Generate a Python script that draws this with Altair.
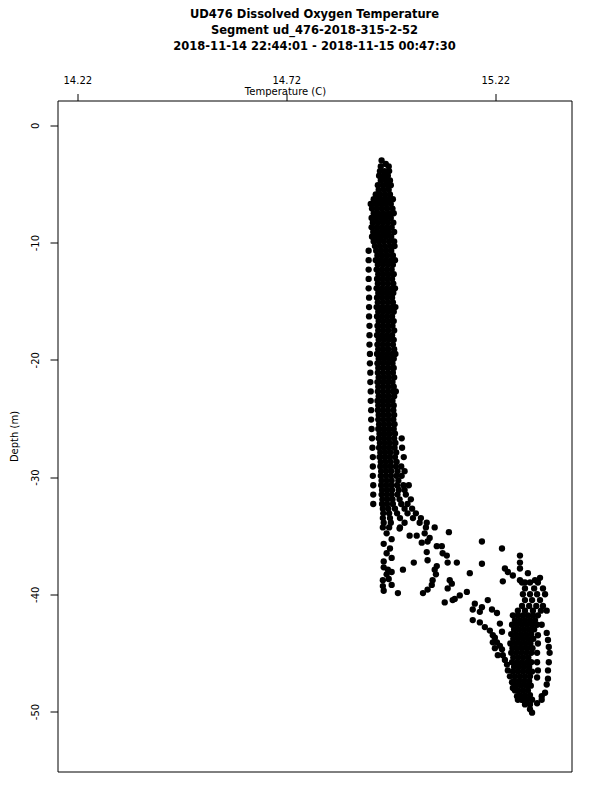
import altair as alt
import pandas as pd

title_lines = [
    "UD476 Dissolved Oxygen Temperature",
    "Segment ud_476-2018-315-2-52",
    "2018-11-14 22:44:01 - 2018-11-15 00:47:30",
]
x_title = "Temperature (C)"
y_title = "Depth (m)"
x_ticks = [14.22, 14.72, 15.22]
y_ticks = [0, -10, -20, -30, -40, -50]
x_domain = [14.1726, 15.4023]
y_domain = [-55.12, 2.12]

# ---- upper mixed layer (depth level -> temperatures read at that level)
upper_depths = [
    -3.0, -3.3, -3.5, -3.9, -4.3, -4.7, -5.1, -5.5, -5.9, -6.3, -6.7, -7.1, -7.5, -7.9,
    -8.3, -8.7, -9.1, -9.5, -9.9, -10.3, -10.7, -11.1, -11.5, -11.9, -12.3, -12.7,
    -13.1, -13.5, -13.9, -14.3, -14.7, -15.1, -15.5, -15.9, -16.3, -16.7, -17.1,
    -17.5, -17.9, -18.3, -18.7, -19.1, -19.5, -19.9, -20.3, -20.7, -21.1, -21.5,
    -21.9, -22.3, -22.7, -23.1, -23.5, -23.9, -24.3, -24.7, -25.1, -25.5, -25.9,
    -26.3, -26.7, -27.1, -27.5, -27.9, -28.3, -28.7, -29.1, -29.5, -29.9, -30.3,
    -30.7, -31.1, -31.5, -31.9, -32.3, -32.7, -33.1, -33.5, -33.9, -34.3,
]
upper_temps = [
    [14.948],
    [14.958],
    [14.946, 14.965],
    [14.944, 14.955, 14.966],
    [14.942, 14.953, 14.963],
    [14.946, 14.958, 14.968],
    [14.939, 14.951, 14.962, 14.970],
    [14.941, 14.953, 14.965],
    [14.934, 14.944, 14.956, 14.968],
    [14.929, 14.941, 14.952, 14.963, 14.975],
    [14.922, 14.934, 14.946, 14.958, 14.970],
    [14.925, 14.937, 14.949, 14.961, 14.974],
    [14.929, 14.940, 14.952, 14.965, 14.977],
    [14.924, 14.935, 14.947, 14.958, 14.970],
    [14.927, 14.939, 14.951, 14.963, 14.976],
    [14.924, 14.936, 14.948, 14.960, 14.972],
    [14.928, 14.940, 14.953, 14.965, 14.978],
    [14.925, 14.936, 14.947, 14.959, 14.971],
    [14.929, 14.941, 14.953, 14.966, 14.978],
    [14.932, 14.944, 14.956, 14.968, 14.979],
    [14.917, 14.935, 14.947, 14.959, 14.971],
    [14.938, 14.950, 14.962, 14.975],
    [14.917, 14.934, 14.946, 14.958, 14.970, 14.980],
    [14.939, 14.951, 14.963, 14.975],
    [14.917, 14.936, 14.948, 14.960, 14.972],
    [14.940, 14.952, 14.964, 14.977],
    [14.917, 14.937, 14.949, 14.961, 14.973],
    [14.939, 14.951, 14.963, 14.976],
    [14.917, 14.936, 14.948, 14.960, 14.972, 14.980],
    [14.940, 14.952, 14.964, 14.976],
    [14.918, 14.937, 14.949, 14.961, 14.973],
    [14.939, 14.951, 14.963, 14.975],
    [14.918, 14.936, 14.948, 14.960, 14.972, 14.981],
    [14.940, 14.952, 14.964, 14.977],
    [14.918, 14.937, 14.949, 14.961, 14.973],
    [14.941, 14.953, 14.965, 14.977],
    [14.919, 14.938, 14.950, 14.962, 14.974],
    [14.940, 14.952, 14.964, 14.978],
    [14.919, 14.937, 14.949, 14.961, 14.973],
    [14.941, 14.953, 14.965, 14.977],
    [14.919, 14.938, 14.950, 14.962, 14.975],
    [14.940, 14.952, 14.964, 14.978],
    [14.920, 14.937, 14.949, 14.961, 14.973, 14.981],
    [14.941, 14.953, 14.965, 14.977],
    [14.920, 14.938, 14.950, 14.962, 14.974],
    [14.940, 14.952, 14.964, 14.977],
    [14.921, 14.939, 14.951, 14.963, 14.975],
    [14.941, 14.953, 14.965, 14.978],
    [14.921, 14.938, 14.950, 14.962, 14.974],
    [14.940, 14.952, 14.964, 14.977],
    [14.922, 14.939, 14.951, 14.963, 14.975, 14.982],
    [14.941, 14.953, 14.965, 14.978],
    [14.922, 14.938, 14.950, 14.962, 14.974],
    [14.940, 14.952, 14.964, 14.977],
    [14.923, 14.939, 14.951, 14.963, 14.976],
    [14.941, 14.953, 14.965, 14.978],
    [14.923, 14.940, 14.952, 14.964, 14.976],
    [14.942, 14.954, 14.966, 14.979],
    [14.924, 14.940, 14.952, 14.964, 14.977],
    [14.943, 14.955, 14.967, 14.980],
    [14.925, 14.941, 14.953, 14.965, 14.978, 14.996],
    [14.944, 14.956, 14.968, 14.981],
    [14.926, 14.942, 14.954, 14.966, 14.979, 14.997],
    [14.945, 14.957, 14.969, 14.983],
    [14.927, 14.943, 14.955, 14.967, 14.980, 15.001],
    [14.946, 14.958, 14.970, 14.984],
    [14.927, 14.945, 14.957, 14.969, 14.982, 14.995],
    [14.947, 14.959, 14.971, 14.986, 15.003],
    [14.927, 14.946, 14.958, 14.970, 14.983, 14.996],
    [14.948, 14.960, 14.972, 14.988],
    [14.928, 14.947, 14.959, 14.971, 14.985, 15.000, 15.013],
    [14.949, 14.961, 14.973, 14.989, 15.003],
    [14.928, 14.948, 14.960, 14.972, 14.986, 15.006],
    [14.950, 14.962, 14.974, 14.991, 15.018],
    [14.928, 14.949, 14.961, 14.975, 14.995, 15.010],
    [14.951, 14.964, 14.980, 15.003, 15.021],
    [14.952, 14.966, 14.985, 15.010, 15.030],
    [14.951, 14.968, 14.992, 15.023, 15.042],
    [14.953, 14.970, 15.003, 15.039, 15.056],
    [14.951, 14.966, 14.992, 15.054, 15.075],
]

# ---- thermocline: individual scattered readings
thermo_temps = [
    14.960, 14.972, 14.953, 14.968, 14.960, 14.972, 14.953, 14.953, 14.963, 14.960,
    14.972, 14.951, 14.951, 14.972, 14.953, 14.965,
    14.991, 15.015, 15.032, 15.051, 15.063, 15.109,
    15.044, 15.058, 15.080, 15.092, 15.094, 15.104, 15.106, 15.128,
    15.056, 15.058, 15.075, 15.080, 15.078, 15.070, 15.068, 15.058, 15.047,
    15.025, 14.999, 14.987,
    15.111, 15.116, 15.106, 15.099, 15.118, 15.123, 15.135, 15.152, 15.159,
    15.188, 15.188, 15.236, 15.243, 15.250, 15.262,
    15.279, 15.279, 15.279, 15.298, 15.238, 15.279, 15.291, 15.315, 15.327,
    15.171, 15.188, 15.202, 15.212, 15.224, 15.166, 15.183,
]
thermo_depths = [
    -34.8, -35.3, -35.7, -36.1, -36.5, -36.9, -37.2, -37.7, -37.9, -38.3,
    -38.1, -38.8, -39.3, -39.2, -39.7, -38.7,
    -34.4, -35.0, -35.0, -34.8, -35.2, -34.7,
    -35.6, -35.5, -35.9, -35.9, -36.5, -36.7, -37.3, -37.3,
    -36.4, -37.1, -37.9, -37.6, -38.3, -38.8, -39.2, -39.6, -39.9,
    -37.3, -37.9, -39.9,
    -38.8, -39.1, -39.5, -40.7, -40.5, -40.4, -40.1, -39.8, -38.2,
    -35.5, -37.4, -36.1, -37.8, -38.1, -38.4,
    -36.7, -37.3, -37.8, -38.2, -38.9, -38.8, -39.0, -38.8, -38.6,
    -40.8, -41.1, -40.5, -41.3, -41.6, -41.3, -41.5,
]

# ---- bottom layer (depth level -> temperatures)
lower_depths = [
    -39.0, -39.5, -40.0, -40.5, -41.0, -41.4, -41.8, -42.2, -42.6, -43.0, -43.4,
    -43.8, -44.2, -44.6, -45.0, -45.4, -45.8, -46.2, -46.6, -47.0, -47.4, -47.8,
    -48.2, -48.6, -49.0, -49.4, -49.8, -50.1,
]
lower_temps = [
    [15.284, 15.303, 15.322],
    [15.291, 15.313, 15.334],
    [15.286, 15.303, 15.320, 15.339],
    [15.291, 15.308, 15.327],
    [15.284, 15.301, 15.318, 15.334],
    [15.274, 15.291, 15.310, 15.329, 15.343],
    [15.262, 15.274, 15.286, 15.298, 15.310, 15.322],
    [15.267, 15.279, 15.291, 15.303, 15.315],
    [15.260, 15.272, 15.284, 15.296, 15.308, 15.320],
    [15.265, 15.277, 15.289, 15.301, 15.313],
    [15.258, 15.270, 15.282, 15.294, 15.306],
    [15.263, 15.275, 15.287, 15.299, 15.311],
    [15.256, 15.268, 15.280, 15.292, 15.304],
    [15.261, 15.273, 15.285, 15.297, 15.309],
    [15.258, 15.270, 15.282, 15.294, 15.306],
    [15.263, 15.275, 15.287, 15.299],
    [15.260, 15.272, 15.284, 15.296, 15.306],
    [15.265, 15.277, 15.289, 15.301],
    [15.262, 15.274, 15.286, 15.298, 15.308],
    [15.267, 15.279, 15.291, 15.303],
    [15.265, 15.277, 15.289, 15.301],
    [15.270, 15.282, 15.294, 15.305],
    [15.274, 15.286, 15.298],
    [15.279, 15.291, 15.303],
    [15.284, 15.296, 15.308],
    [15.291, 15.303],
    [15.303],
    [15.308],
]

# ---- warm-side tail and outer casts near the bottom
tail_temps = [
    15.166, 15.183, 15.195, 15.207, 15.214, 15.219, 15.224, 15.231, 15.236, 15.238,
    15.243, 15.248, 15.250, 15.255, 15.260, 15.262, 15.267, 15.272, 15.274,
    15.214, 15.219, 15.226, 15.231, 15.236,
    15.331, 15.343, 15.346, 15.348, 15.350, 15.348, 15.346, 15.346, 15.343, 15.339, 15.331,
    15.322, 15.322, 15.320, 15.320, 15.322, 15.320,
    15.284, 15.320, 15.331,
]
tail_depths = [
    -42.2, -42.4, -42.8, -43.1, -43.5, -43.7, -44.1, -44.4, -44.7, -45.2,
    -45.6, -46.0, -46.5, -47.0, -47.5, -48.0, -48.2, -48.7, -49.0,
    -44.1, -44.6, -45.2, -42.5, -43.2,
    -42.6, -43.3, -43.9, -44.5, -45.0, -45.8, -46.5, -47.2, -47.7, -48.4, -49.0,
    -43.5, -44.2, -45.0, -45.8, -46.5, -47.1,
    -49.0, -49.3, -48.7,
]

rows = []
for d, ts in zip(upper_depths, upper_temps):
    for t in ts:
        rows.append({"temp": t, "depth": d})
for t, d in zip(thermo_temps, thermo_depths):
    rows.append({"temp": t, "depth": d})
for d, ts in zip(lower_depths, lower_temps):
    for t in ts:
        rows.append({"temp": t, "depth": d})
for t, d in zip(tail_temps, tail_depths):
    rows.append({"temp": t, "depth": d})
df = pd.DataFrame(rows)

FONT = "DejaVu Sans"

chart = (
    alt.Chart(df)
    .mark_circle(size=40, color="black", opacity=1)
    .encode(
        x=alt.X(
            "temp:Q",
            scale=alt.Scale(domain=x_domain, nice=False, zero=False),
            axis=alt.Axis(
                orient="top",
                values=x_ticks,
                format=".2f",
                tickSize=7,
                tickColor="black",
                labelFont=FONT,
                labelFontSize=10,
                labelColor="black",
                labelPadding=10.2,
                labelBaseline="alphabetic",
                labelOverlap=False,
                labelFlush=False,
                grid=False,
                domain=False,
                title=x_title,
                titleFont=FONT,
                titleFontSize=10,
                titleFontWeight="normal",
                titleColor="black",
                titleX=227.5,
                titleY=-6.5,
                titleAlign="center",
                titleBaseline="alphabetic",
            ),
        ),
        y=alt.Y(
            "depth:Q",
            scale=alt.Scale(domain=y_domain, nice=False, zero=False),
            axis=alt.Axis(
                values=y_ticks,
                tickSize=7.5,
                tickColor="black",
                labelFont=FONT,
                labelFontSize=10,
                labelColor="black",
                labelAngle=270,
                labelAlign="center",
                labelBaseline="alphabetic",
                labelPadding=12,
                labelOverlap=False,
                labelFlush=False,
                labelExpr="'' + datum.value",
                grid=False,
                domain=False,
                title=y_title,
                titleFont=FONT,
                titleFontSize=10,
                titleFontWeight="normal",
                titleColor="black",
                titleAngle=270,
                titleX=-43,
                titleY=335.5,
                titleAlign="center",
                titleBaseline="middle",
            ),
        ),
    )
    .properties(
        width=514,
        height=671,
        background="white",
        title=alt.TitleParams(
            text=title_lines,
            anchor="middle",
            frame="group",
            font=FONT,
            fontSize=11.5,
            fontWeight="bold",
            lineHeight=16,
            color="black",
            offset=23,
        ),
        padding={"left": 49.5, "top": 92.5, "right": 20, "bottom": 20},
        autosize=alt.AutoSizeParams(type="none"),
    )
    .configure_view(stroke="black", strokeWidth=1, fill="white")
)

chart.save("out.html", embed_options={"renderer": "svg", "actions": False})
